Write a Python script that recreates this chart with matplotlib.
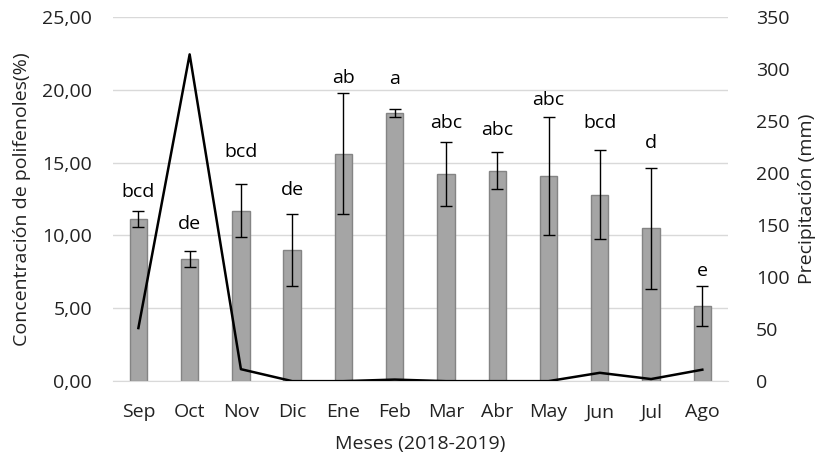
import matplotlib
matplotlib.use('Agg')
import matplotlib.pyplot as plt
from matplotlib.ticker import FuncFormatter

plt.rcParams['font.family'] = ['Open Sans', 'DejaVu Sans']

# data
meses = ['Sep', 'Oct', 'Nov', 'Dic', 'Ene', 'Feb', 'Mar', 'Abr', 'May', 'Jun', 'Jul', 'Ago']
polifenoles = [11.15, 8.4, 11.7, 9.0, 15.6, 18.4, 14.2, 14.45, 14.05, 12.8, 10.5, 5.15]
error = [0.55, 0.55, 1.8, 2.5, 4.15, 0.3, 2.2, 1.27, 4.05, 3.05, 4.15, 1.35]
precipitacion = [51, 314, 11.5, 0, 0, 1.5, 0, 0, 0, 8, 2, 11]
letras = ['bcd', 'de', 'bcd', 'de', 'ab', 'a', 'abc', 'abc', 'abc', 'bcd', 'd', 'e']
# baseline height of each letter label (left axis units)
letras_y = [12.66, 10.41, 15.4, 12.77, 20.45, 20.4, 17.35, 16.92, 18.96, 17.35, 16.0, 7.23]

FS = 14

fig = plt.figure(figsize=(8.17, 4.57), dpi=100)
ax = fig.add_axes([0.138, 0.166, 0.753, 0.797])
x = list(range(len(meses)))

ax.bar(x, polifenoles, width=0.34, color='#a5a5a5', edgecolor='#848484', linewidth=1.0, zorder=2)
ax.errorbar(x, polifenoles, yerr=error, fmt='none', ecolor='black', elinewidth=1.0,
            capsize=4.5, capthick=1.0, zorder=3)

for xi, lab, ly in zip(x, letras, letras_y):
    ax.text(xi, ly, lab, ha='center', va='baseline', fontsize=FS, color='black')

ax.set_xlim(-0.5, len(meses) - 0.5)
ax.set_ylim(0, 25)
ax.set_yticks([0, 5, 10, 15, 20, 25])
ax.yaxis.set_major_formatter(FuncFormatter(lambda v, p: f'{v:.2f}'.replace('.', ',')))
ax.set_xticks(x)
ax.set_xticklabels(meses)
ax.grid(axis='y', color='#d9d9d9', linewidth=1.0, zorder=0)
ax.set_axisbelow(True)
for s in ['top', 'right', 'left']:
    ax.spines[s].set_visible(False)
ax.spines['bottom'].set_color('#d9d9d9')
ax.tick_params(axis='both', length=0, labelsize=FS, colors='#222222')
ax.tick_params(axis='x', pad=16)
ax.tick_params(axis='y', pad=15)
ax.set_ylabel('Concentración de polifenoles(%)', fontsize=FS, color='#222222', labelpad=8)
ax.set_xlabel('Meses (2018-2019)', fontsize=FS, color='#222222', labelpad=10)

ax2 = ax.twinx()
ax2.plot(x, precipitacion, color='black', linewidth=1.8, zorder=4)
ax2.set_ylim(0, 350)
ax2.set_yticks(range(0, 351, 50))
for s in ['top', 'right', 'left', 'bottom']:
    ax2.spines[s].set_visible(False)
ax2.tick_params(axis='y', length=0, labelsize=FS, colors='#222222', pad=20)
ax2.set_ylabel('Precipitación (mm)', fontsize=FS, color='#222222', labelpad=6)

fig.savefig('out.png', dpi=100)
